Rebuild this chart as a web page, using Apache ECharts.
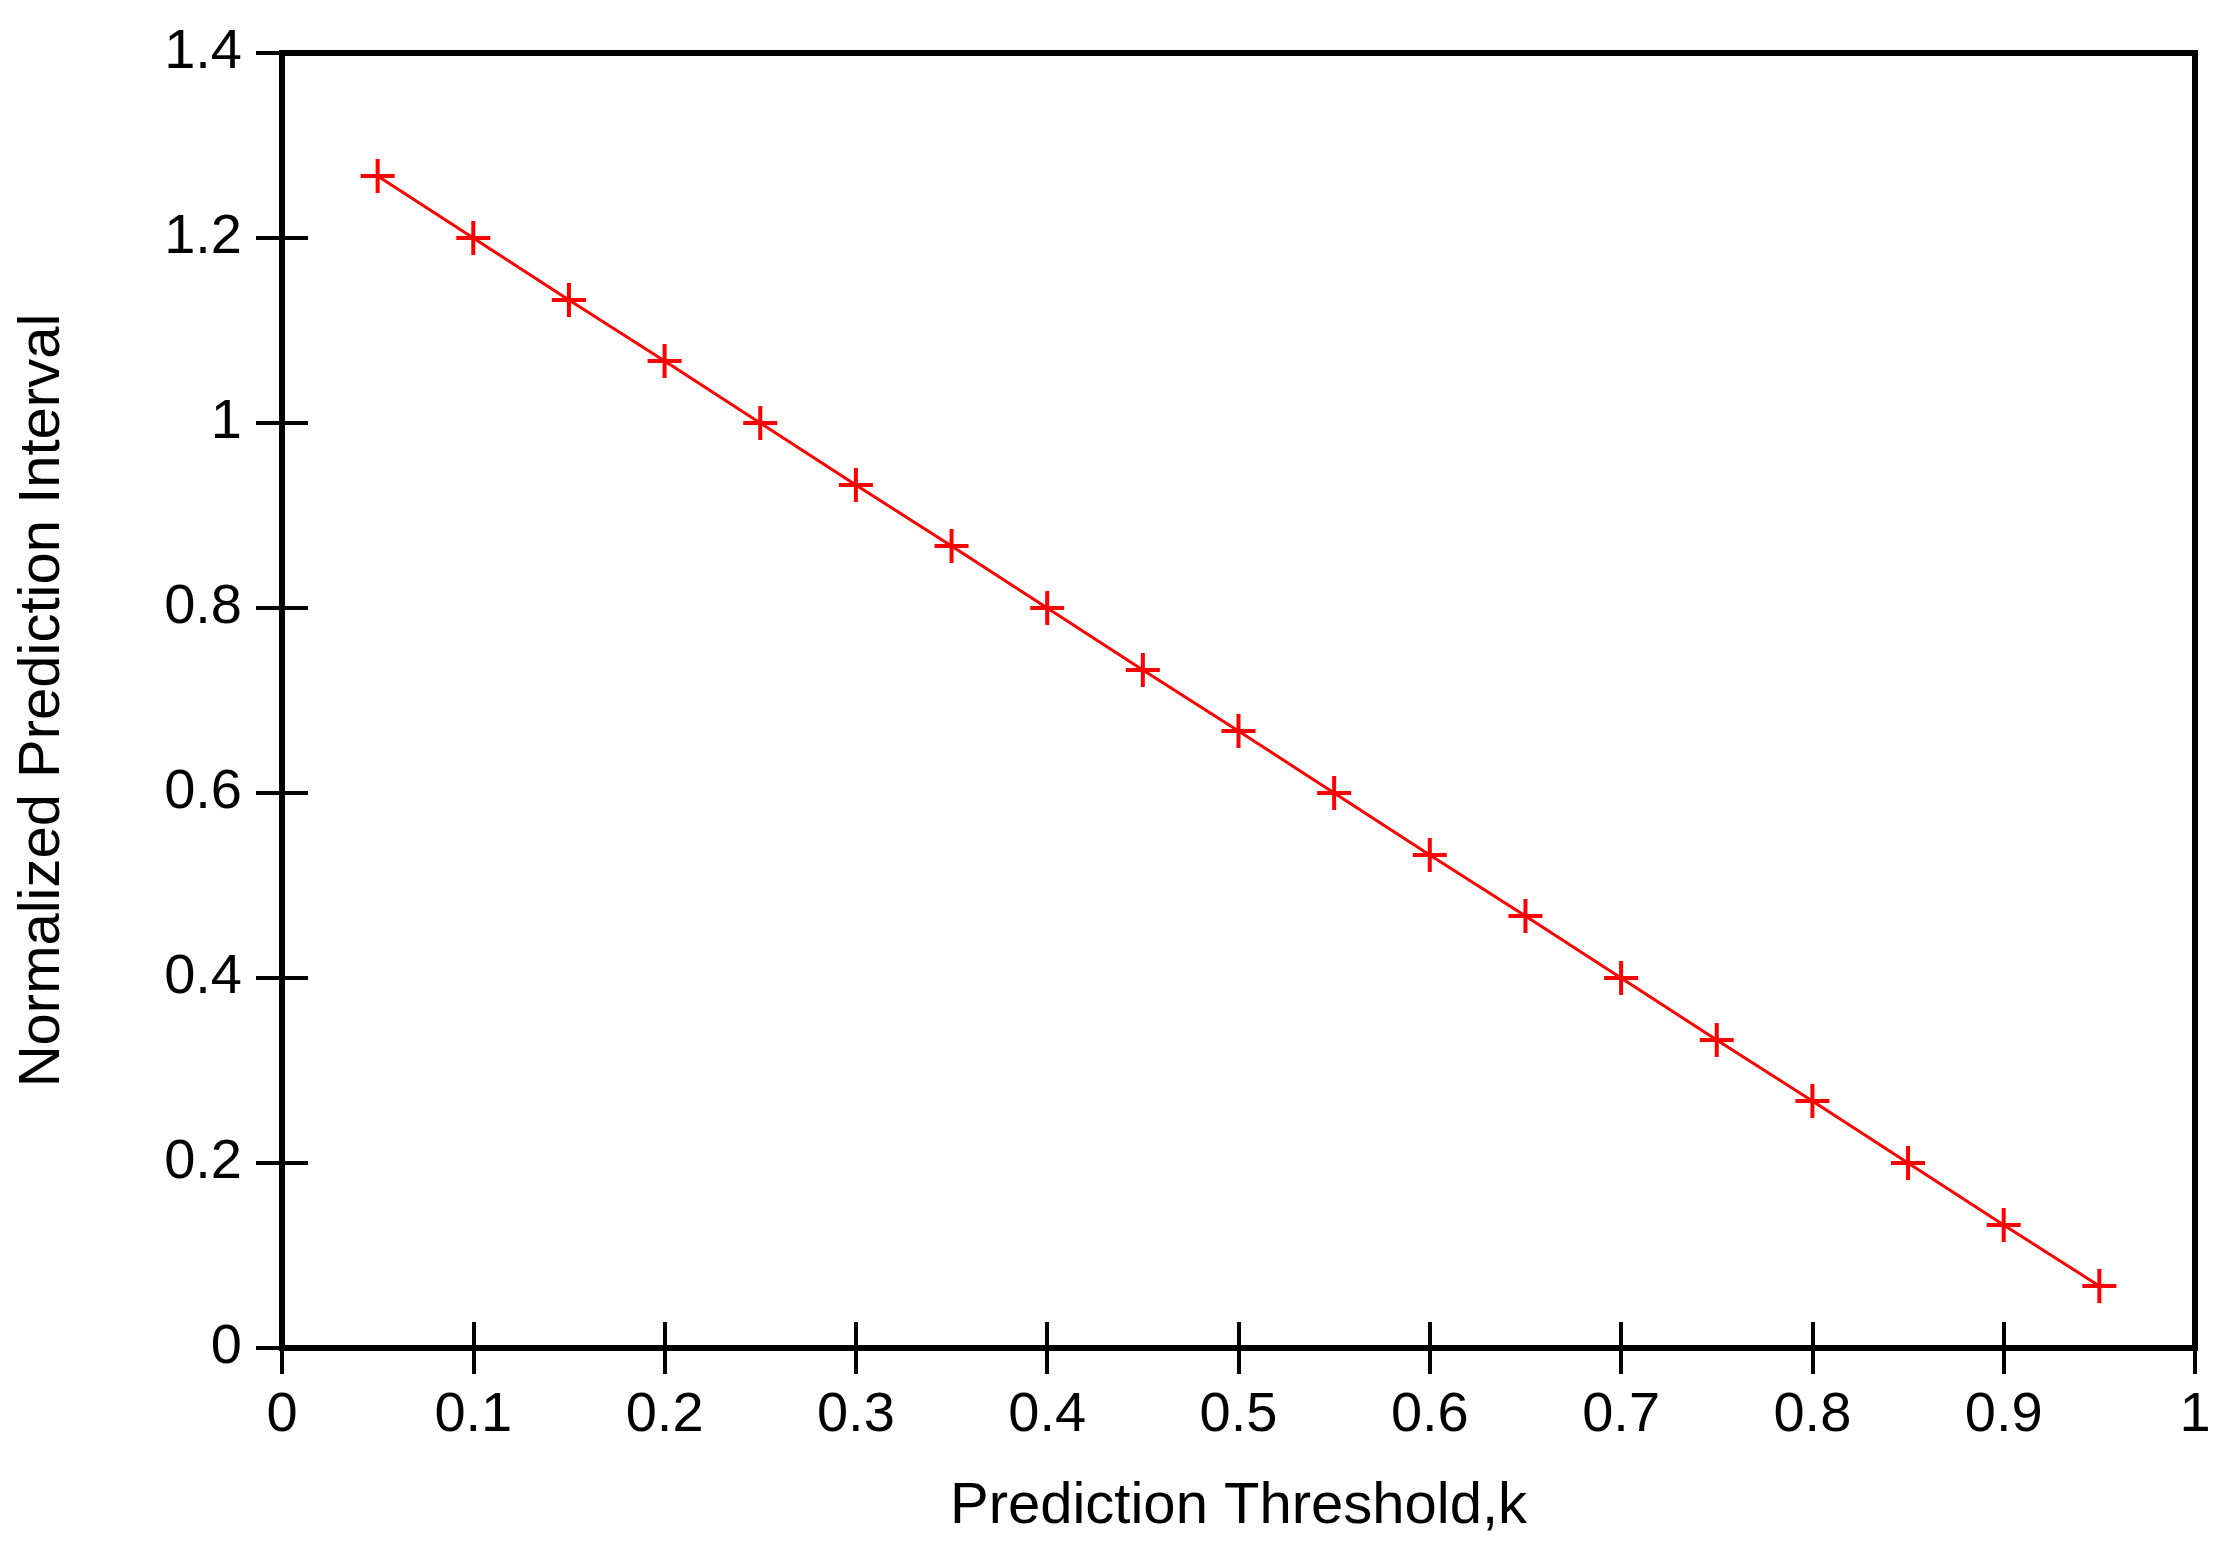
<!DOCTYPE html>
<html>
<head>
<meta charset="utf-8">
<script src="https://cdn.jsdelivr.net/npm/echarts@6/dist/echarts.min.js"></script>
<style>html,body{margin:0;background:#fff}#c{width:2231px;height:1563px}</style>
</head>
<body>
<div id="c"></div>
<script>
var kValues = [0.05, 0.1, 0.15, 0.2, 0.25, 0.3, 0.35, 0.4, 0.45, 0.5, 0.55, 0.6, 0.65, 0.7, 0.75, 0.8, 0.85, 0.9, 0.95];
var intervalValues = [1.267, 1.2, 1.133, 1.067, 1.0, 0.933, 0.867, 0.8, 0.733, 0.667, 0.6, 0.533, 0.467, 0.4, 0.333, 0.267, 0.2, 0.133, 0.067];
var xLabel = 'Prediction Threshold,k';
var yLabel = 'Normalized Prediction Interval';

var points = kValues.map(function (k, i) { return [k, intervalValues[i]]; });
var plus = 'path://M0,5L10,5M5,0L5,10';
var font = 'Liberation Sans';

var myChart = echarts.init(document.getElementById('c'));
var hidden = {
	axisLine: { show: false },
	axisLabel: { show: false },
	splitLine: { show: false },
	axisTick: { inside: true, length: 26, lineStyle: { color: '#000', width: 4 } }
};
myChart.setOption({
	animation: false,
	grid: {
		left: 282, right: 36, top: 53, bottom: 215,
		show: true, borderColor: '#000', borderWidth: 6
	},
	xAxis: [{
		type: 'value', min: 0, max: 1, interval: 0.1,
		name: xLabel, nameLocation: 'middle', nameGap: 130,
		nameTextStyle: { fontFamily: font, fontSize: 58, color: '#000' },
		axisLine: { show: false },
		splitLine: { show: false },
		axisTick: { inside: true, length: 26, lineStyle: { color: '#000', width: 4 } },
		axisLabel: { fontFamily: font, fontSize: 56, color: '#000', margin: 40,
			formatter: function (v) { return String(+v.toFixed(1)); } }
	}, Object.assign({ type: 'value', min: 0, max: 1, interval: 0.1, position: 'top' }, hidden)],
	yAxis: [{
		type: 'value', min: 0, max: 1.4, interval: 0.2,
		name: yLabel, nameLocation: 'middle', nameGap: 210,
		nameTextStyle: { fontFamily: font, fontSize: 58, color: '#000' },
		axisLine: { show: false },
		splitLine: { show: false },
		axisTick: { inside: true, length: 26, lineStyle: { color: '#000', width: 4 } },
		axisLabel: { fontFamily: font, fontSize: 56, color: '#000', margin: 40,
			formatter: function (v) { return String(+v.toFixed(1)); } }
	}, Object.assign({ type: 'value', min: 0, max: 1.4, interval: 0.2, position: 'right' }, hidden)],
	series: [{
		type: 'line',
		data: points,
		lineStyle: { color: '#ff0000', width: 3 },
		itemStyle: { color: '#ff0000', borderColor: '#ff0000', borderWidth: 4 },
		symbol: plus,
		symbolSize: 34,
		showAllSymbol: true
	}]
});

window.onresize = function () {
	myChart.resize();
};
</script>
</body>
</html>
